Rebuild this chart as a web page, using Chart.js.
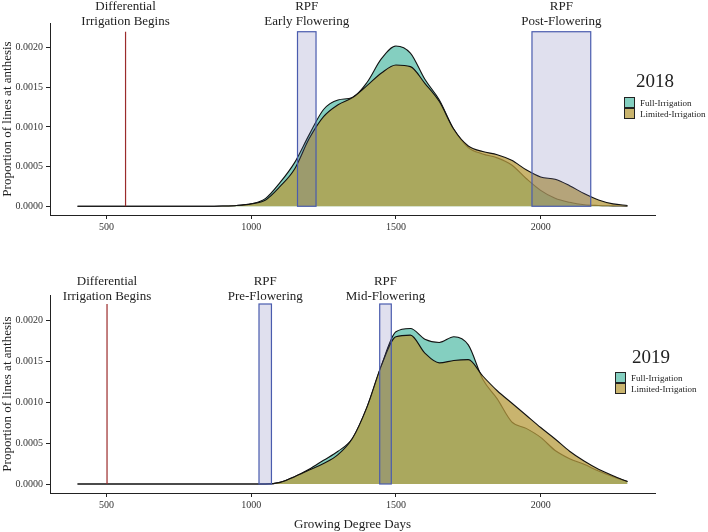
<!DOCTYPE html>
<html lang="en">
<head>
<meta charset="UTF-8">
<title>Proportion of lines at anthesis</title>
<script src="https://cdn.jsdelivr.net/npm/chart.js"></script>
<style>
  body { margin: 0; background: #fff; width: 708px; height: 532px; position: relative; overflow: hidden; }
  .panel { position: absolute; left: 0; width: 708px; }
  #top { top: 0; height: 250px; }
  #bottom { top: 262px; height: 270px; }
</style>
</head>
<body>
<div class="panel" id="top"><canvas id="chart2018"></canvas></div>
<div class="panel" id="bottom"><canvas id="chart2019"></canvas></div>
<script>
// growing degree days where the densities were read
const gdd = [400, 450, 500, 550, 600, 650, 700, 750, 800, 850,
             900, 950, 1000, 1050, 1100, 1150, 1200, 1250, 1300, 1350,
             1400, 1450, 1500, 1550, 1600, 1650, 1700, 1750, 1800, 1850,
             1900, 1950, 2000, 2050, 2100, 2150, 2200, 2250, 2300];

const full2018 = [0, 0, 0, 0, 0, 0, 0, 0, 0, 0,
  0.000003, 0.00001, 0.00003, 0.0001, 0.0003, 0.00055, 0.0009, 0.00122, 0.00134, 0.00137,
  0.00156, 0.00186, 0.00202, 0.00193, 0.0016, 0.00134, 0.00097, 0.00074, 0.00066, 0.00061,
  0.00052, 0.00035, 0.0002, 0.0001, 0.00005, 0.00002, 0.00001, 0.000005, 0];
const limited2018 = [0, 0, 0, 0, 0, 0, 0, 0, 0, 0,
  0.000003, 0.00001, 0.00003, 0.00008, 0.00025, 0.00047, 0.00085, 0.00113, 0.00128, 0.00137,
  0.00152, 0.00168, 0.00178, 0.00176, 0.00155, 0.00132, 0.00097, 0.00076, 0.00069, 0.00065,
  0.00058, 0.00046, 0.00037, 0.00034, 0.00026, 0.00016, 0.00008, 0.00003, 0.00001];

const full2019 = [0, 0, 0, 0, 0, 0, 0, 0, 0, 0,
  0, 0, 0, 0, 0.00002, 0.00009, 0.00018, 0.00029, 0.0004, 0.00056,
  0.00094, 0.00145, 0.00186, 0.0019, 0.00177, 0.00173, 0.0018, 0.0017, 0.00128, 0.00104,
  0.00076, 0.00068, 0.00057, 0.00041, 0.00031, 0.00024, 0.00016, 0.00009, 0.00003];
const limited2019 = [0, 0, 0, 0, 0, 0, 0, 0, 0, 0,
  0, 0, 0, 0, 0.00002, 0.00009, 0.00017, 0.00025, 0.00036, 0.00056,
  0.00094, 0.00145, 0.0018, 0.00182, 0.0016, 0.00148, 0.00151, 0.00152, 0.00132, 0.00114,
  0.00099, 0.00084, 0.00069, 0.00055, 0.0004, 0.00028, 0.00018, 0.0001, 0.00003];

// irrigation start and RPF windows
const irrigation2018 = 566;
const irrigation2019 = 502;
const rpfStart2018 = [1160, 1970];
const rpfEnd2018 = [1224, 2173];
const rpfNames2018 = ['Early Flowering', 'Post-Flowering'];
const rpfStart2019 = [1027, 1444];
const rpfEnd2019 = [1070, 1484];
const rpfNames2019 = ['Pre-Flowering', 'Mid-Flowering'];
const markTop = 0.0022;

const xTicks = [500, 1000, 1500, 2000];
const yTicks = [0, 0.0005, 0.001, 0.0015, 0.002];

const serif = "'Liberation Serif', 'Times New Roman', serif";
const fullColor = 'rgba(84, 188, 168, 0.72)';
const limitedColor = 'rgba(183, 155, 61, 0.75)';

// rectangles, labels above them and the year legend
const decor = {
  id: 'decor',
  afterDatasetsDraw(chart, args, o) {
    const { ctx, scales: { x, y } } = chart;
    ctx.save();
    const t = y.getPixelForValue(markTop), b = y.getPixelForValue(0);
    o.start.forEach((s, i) => {
      const l = x.getPixelForValue(s), r = x.getPixelForValue(o.end[i]);
      ctx.fillStyle = 'rgba(100, 100, 170, 0.2)';
      ctx.fillRect(l, t, r - l, b - t);
      ctx.strokeStyle = '#4a5cae';
      ctx.lineWidth = 1.2;
      ctx.strokeRect(l, t, r - l, b - t);
    });

    ctx.fillStyle = '#222';
    ctx.font = '13px ' + serif;
    ctx.textAlign = 'center';
    ctx.textBaseline = 'alphabetic';
    const ix = x.getPixelForValue(o.irrigation);
    ctx.fillText('Differential', ix, o.labelY[0]);
    ctx.fillText('Irrigation Begins', ix, o.labelY[1]);
    o.start.forEach((s, i) => {
      const cx = (x.getPixelForValue(s) + x.getPixelForValue(o.end[i])) / 2;
      ctx.fillText('RPF', cx, o.labelY[0]);
      ctx.fillText(o.names[i], cx, o.labelY[1]);
    });

    // legend
    const lg = o.legend;
    ctx.font = '19px ' + serif;
    ctx.fillText(o.year, lg.titleX, lg.titleY);
    [fullColor, limitedColor].forEach((c, i) => {
      const ky = lg.keyY + i * 11;
      ctx.fillStyle = '#fff';
      ctx.fillRect(lg.keyX, ky, 11, 11);
      ctx.fillStyle = c;
      ctx.fillRect(lg.keyX, ky, 11, 11);
      ctx.strokeStyle = '#222';
      ctx.lineWidth = 1;
      ctx.strokeRect(lg.keyX + 0.5, ky + 0.5, 10, 10);
    });
    ctx.fillStyle = '#222';
    ctx.font = '9px ' + serif;
    ctx.textAlign = 'left';
    ctx.fillText('Full-Irrigation', lg.keyX + 16, lg.keyY + 9);
    ctx.fillText('Limited-Irrigation', lg.keyX + 16, lg.keyY + 20);
    ctx.restore();
  }
};

function densityLine(label, values, color, order) {
  return {
    label: label,
    data: gdd.map((g, i) => ({ x: g, y: values[i] })),
    order: order,
    fill: 'origin',
    backgroundColor: color,
    borderColor: '#111',
    borderWidth: 1.1,
    pointRadius: 0,
    cubicInterpolationMode: 'monotone'
  };
}

function makeChart(id, year, full, limited, irrigation, start, end, names, look) {
  new Chart(document.getElementById(id), {
    type: 'line',
    data: {
      datasets: [
        densityLine('Full-Irrigation', full, fullColor, 2),
        densityLine('Limited-Irrigation', limited, limitedColor, 1),
        {
          label: 'Differential Irrigation Begins',
          data: [{ x: irrigation, y: 0 }, { x: irrigation, y: markTop }],
          order: 0,
          fill: false,
          borderColor: '#9b2b2b',
          borderWidth: 1.2,
          pointRadius: 0
        }
      ]
    },
    options: {
      responsive: true,
      maintainAspectRatio: false,
      animation: false,
      layout: { padding: { left: 0, right: 53, top: look.top, bottom: 0 } },
      plugins: {
        legend: { display: false },
        tooltip: { enabled: false },
        decor: {
          year: year, irrigation: irrigation, start: start, end: end, names: names,
          labelY: look.labelY, legend: look.legend
        }
      },
      scales: {
        x: {
          type: 'linear',
          min: 305,
          max: 2395,
          afterBuildTicks: s => { s.ticks = xTicks.map(v => ({ value: v })); },
          afterFit: s => { s.height = look.xHeight; },
          grid: { drawOnChartArea: false, tickLength: 4, color: '#222' },
          border: { color: '#222', width: 1 },
          ticks: { color: '#333', font: { family: serif, size: 10 }, padding: 2, maxRotation: 0, callback: v => String(v) },
          title: { display: look.xTitle, text: 'Growing Degree Days', color: '#222', font: { family: serif, size: 13 }, padding: 0 }
        },
        y: {
          min: -0.00011,
          max: 0.00231,
          afterBuildTicks: s => { s.ticks = yTicks.map(v => ({ value: v })); },
          afterFit: s => { s.width = 50; },
          grid: { drawOnChartArea: false, tickLength: 4, color: '#222' },
          border: { color: '#222', width: 1 },
          ticks: { color: '#333', font: { family: serif, size: 10 }, padding: 3, callback: v => v.toFixed(4) },
          title: { display: true, text: 'Proportion of lines at anthesis', color: '#222', font: { family: serif, size: 13 }, padding: 0 }
        }
      }
    },
    plugins: [decor]
  });
}

makeChart('chart2018', '2018', full2018, limited2018, irrigation2018, rpfStart2018, rpfEnd2018, rpfNames2018, {
  top: 23, xHeight: 35, xTitle: false, labelY: [10, 25],
  legend: { titleX: 655, titleY: 87, keyX: 624, keyY: 97 }
});
makeChart('chart2019', '2019', full2019, limited2019, irrigation2019, rpfStart2019, rpfEnd2019, rpfNames2019, {
  top: 33, xHeight: 39, xTitle: true, labelY: [22.7, 38],
  legend: { titleX: 651, titleY: 101, keyX: 615, keyY: 110 }
});
</script>
</body>
</html>
